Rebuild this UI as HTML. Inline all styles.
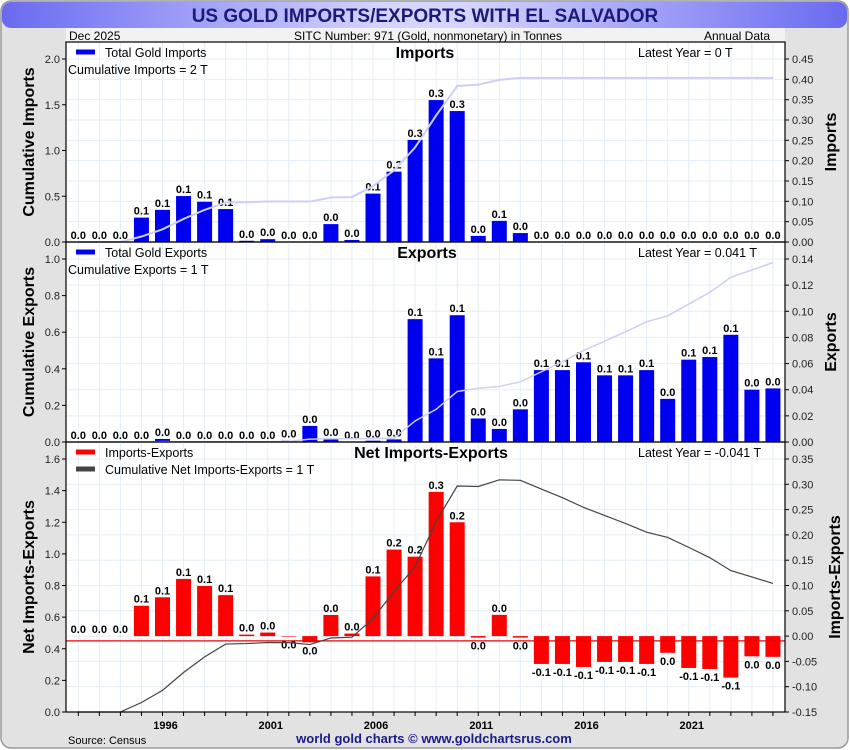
<!DOCTYPE html>
<html><head><meta charset="utf-8">
<style>
body{margin:0;width:850px;height:750px;overflow:hidden;background:#fff;font-family:"Liberation Sans",sans-serif}
svg{display:block}
</style></head><body>
<svg id="chart" width="850" height="750" xmlns="http://www.w3.org/2000/svg">
<defs>
<linearGradient id="tg" x1="0" x2="1" y1="0" y2="0">
<stop offset="0" stop-color="#6a6af0"/><stop offset="0.45" stop-color="#d4d4ff"/><stop offset="0.55" stop-color="#d4d4ff"/><stop offset="1" stop-color="#6a6af0"/>
</linearGradient>
</defs>
<rect x="1" y="1" width="847" height="747" rx="10" fill="#e2e2e2" stroke="#999" stroke-width="1.5"/>
<rect x="2" y="2" width="845" height="26" rx="9" fill="url(#tg)"/>
<text x="425" y="22" text-anchor="middle" font-size="19" font-weight="bold" fill="#1a1a7a">US GOLD IMPORTS/EXPORTS WITH EL SALVADOR</text>
<rect x="66" y="28" width="719" height="14" fill="#f2f2f2"/>
<text x="69" y="40" font-size="12">Dec  2025</text>
<text x="428" y="40" font-size="12" text-anchor="middle">SITC Number: 971 (Gold, nonmonetary) in Tonnes</text>
<text x="770" y="40" font-size="12" text-anchor="end">Annual Data</text>
<rect x="66" y="42" width="719" height="670" fill="#fff"/>
<g id="g"></g>
<text x="68" y="744" font-size="11">Source: Census</text>
<text x="434" y="743" font-size="13" font-weight="bold" fill="#1a1a8a" text-anchor="middle">world gold charts © www.goldchartsrus.com</text>
</svg>
<script>
const years=[];for(let y=1992;y<=2025;y++)years.push(y);
const imports=[0,0,0,0.060,0.079,0.113,0.099,0.081,0.003,0.007,0,0,0.044,0.005,0.119,0.173,0.251,0.349,0.322,0.015,0.052,0.022,0,0,0,0,0,0,0,0,0,0,0,0];
const exportsV=[0,0,0,0,0.0023,0,0,0,0,0,0.001,0.0123,0.0023,0,0.001,0.002,0.094,0.064,0.097,0.018,0.010,0.025,0.055,0.055,0.061,0.051,0.051,0.055,0.033,0.063,0.065,0.082,0.040,0.041];
const yearLabels=[1996,2001,2006,2011,2016,2021];
const p1Left=[0,0.5,1.0,1.5,2.0],p1Right=[0,0.05,0.1,0.15,0.2,0.25,0.3,0.35,0.4,0.45];
const p2Left=[0,0.2,0.4,0.6,0.8,1.0],p2Right=[0,0.02,0.04,0.06,0.08,0.1,0.12,0.14];
const p3Left=[0,0.2,0.4,0.6,0.8,1.0,1.2,1.4,1.6],p3Right=[-0.15,-0.1,-0.05,0,0.05,0.1,0.15,0.2,0.25,0.3,0.35];

const NS="http://www.w3.org/2000/svg",G=document.getElementById('g');
function mk(t,a,txt){const e=document.createElementNS(NS,t);for(const k in a)e.setAttribute(k,a[k]);if(txt!=null)e.textContent=txt;G.appendChild(e);return e;}
const X0=66,X1=785;
const xs=i=>78.3+i*21.05;
const net=imports.map((v,i)=>v-exportsV[i]);
function cum(a){let s=0;return a.map(v=>s+=v);}

function panel(o){
  const {top,bot,lmin,lmax,rmin,rmax,lt,rt,vals,cv,color,name}=o;
  const ly=v=>bot-(v-lmin)/(lmax-lmin)*(bot-top-(o.pad||0));
  const ry=v=>bot-(v-rmin)/(rmax-rmin)*(bot-top-(o.pad||0));
  for(let i=0;i<years.length;i++){let l=mk('line',{x1:xs(i),x2:xs(i),y1:top,y2:bot,stroke:'#e4eef6','stroke-width':1});
    }
  for(let k=0;k<rt.length;k++){const y=ry(rt[k]);let l=mk('line',{x1:X0,x2:X1,y1:y,y2:y,stroke:'#e4eef6'});
    }
  const z=ry(0);
  vals.forEach((v,i)=>{
    const y=ry(v);const b=mk('rect',{x:xs(i)-7.5,y:Math.min(y,z),width:15,height:Math.max(Math.abs(z-y),0.01),fill:color});
    
    let s=(Math.round(v*10)/10).toFixed(1);if(s==='-0.0')s='0.0';
    const neg=v<0;
    const t=mk('text',{x:xs(i),y:neg?y+12:y-3,'font-size':11,'font-weight':'bold','text-anchor':'middle'},s);
    
  });
  if(o.refLine!=null){const y=ly(o.refLine);const l=mk('line',{x1:X0,x2:X1,y1:y,y2:y,stroke:'#e00','stroke-width':1.2});
    }
  const cs=cum(vals);
  const pts=cs.map((c,i)=>xs(i)+','+Math.min(ly(c),bot)).join(' ');
  const pl=mk('polyline',{points:pts,fill:'none',stroke:o.lineColor,'stroke-width':o.lineW});
  
  const f=mk('rect',{x:X0,y:top,width:X1-X0,height:bot-top,fill:'none',stroke:'#000','stroke-width':1.2});
  
  lt.forEach(v=>{const y=ly(v);mk('line',{x1:X0-4,x2:X0,y1:y,y2:y,stroke:'#000'});
    const t=mk('text',{x:X0-6,y:y+4,'font-size':11,'text-anchor':'end',fill:'#222'},v.toFixed(1));
    });
  rt.forEach(v=>{const y=ry(v);mk('line',{x1:X1,x2:X1+4,y1:y,y2:y,stroke:'#000'});
    const t=mk('text',{x:X1+7,y:y+4,'font-size':11,fill:'#222'},v.toFixed(2));
    });
  const cy=(top+bot)/2;
  const la=mk('text',{x:0,y:0,'font-size':16,'font-weight':'bold','text-anchor':'middle',transform:`translate(${o.lx},${cy}) rotate(-90)`},o.ltitle);
  
  const ra=mk('text',{x:0,y:0,'font-size':16,'font-weight':'bold','text-anchor':'middle',transform:`translate(${o.rx},${cy}) rotate(-90)`},o.rtitle);
  
  const pt=mk('text',{x:o.tx,y:top+16,'font-size':16,'font-weight':'bold','text-anchor':'middle'},o.title);
  
  const lat=mk('text',{x:638,y:top+15,'font-size':12.5},o.latest);
  
  const lg=mk('line',{x1:76,x2:95,y1:top+10,y2:top+10,stroke:color,'stroke-width':5});
  
  const lgt=mk('text',{x:105,y:top+15,'font-size':12.5},o.legend);
  
}
panel({name:'imports',top:42,bot:242,pad:17,lmin:0,lmax:2.0,rmin:0,rmax:0.45,lt:p1Left,rt:p1Right,vals:imports,color:'#0000f0',
  lineColor:'#cfcff6',lineW:2,lx:34,rx:836,ltitle:'Cumulative Imports',rtitle:'Imports',title:'Imports',tx:425,latest:'Latest Year = 0 T',legend:'Total Gold Imports'});
mk('text',{x:68,y:74,'font-size':12.5},'Cumulative Imports = 2 T');
panel({name:'exports',top:242,bot:442,pad:17,lmin:0,lmax:1.0,rmin:0,rmax:0.14,lt:p2Left,rt:p2Right,vals:exportsV,color:'#0000f0',
  lineColor:'#cfcff6',lineW:1.5,lx:34,rx:836,ltitle:'Cumulative Exports',rtitle:'Exports',title:'Exports',tx:427,latest:'Latest Year = 0.041 T',legend:'Total Gold Exports'});
mk('text',{x:68,y:274,'font-size':12.5},'Cumulative Exports = 1 T');
panel({name:'net',top:442,bot:712,pad:17,lmin:0,lmax:1.6,rmin:-0.15,rmax:0.35,lt:p3Left,rt:p3Right,vals:net,color:'#ff0000',
  lineColor:'#444',lineW:1.2,lx:34,rx:840,ltitle:'Net Imports-Exports',rtitle:'Imports-Exports',title:'Net Imports-Exports',tx:431,latest:'Latest Year = -0.041 T',legend:'Imports-Exports',refLine:0.45});
const l2=mk('line',{x1:76,x2:95,y1:469,y2:469,stroke:'#444','stroke-width':5});

const lt2=mk('text',{x:105,y:474,'font-size':12.5},'Cumulative Net Imports-Exports = 1 T');

years.forEach((y,i)=>{mk('line',{x1:xs(i),x2:xs(i),y1:712,y2:716,stroke:'#000'});});
yearLabels.forEach(y=>{const i=years.indexOf(y);const t=mk('text',{x:xs(i)+3,y:729,'font-size':11,'font-weight':'bold','text-anchor':'middle'},String(y));
  });
</script>
</body></html>
